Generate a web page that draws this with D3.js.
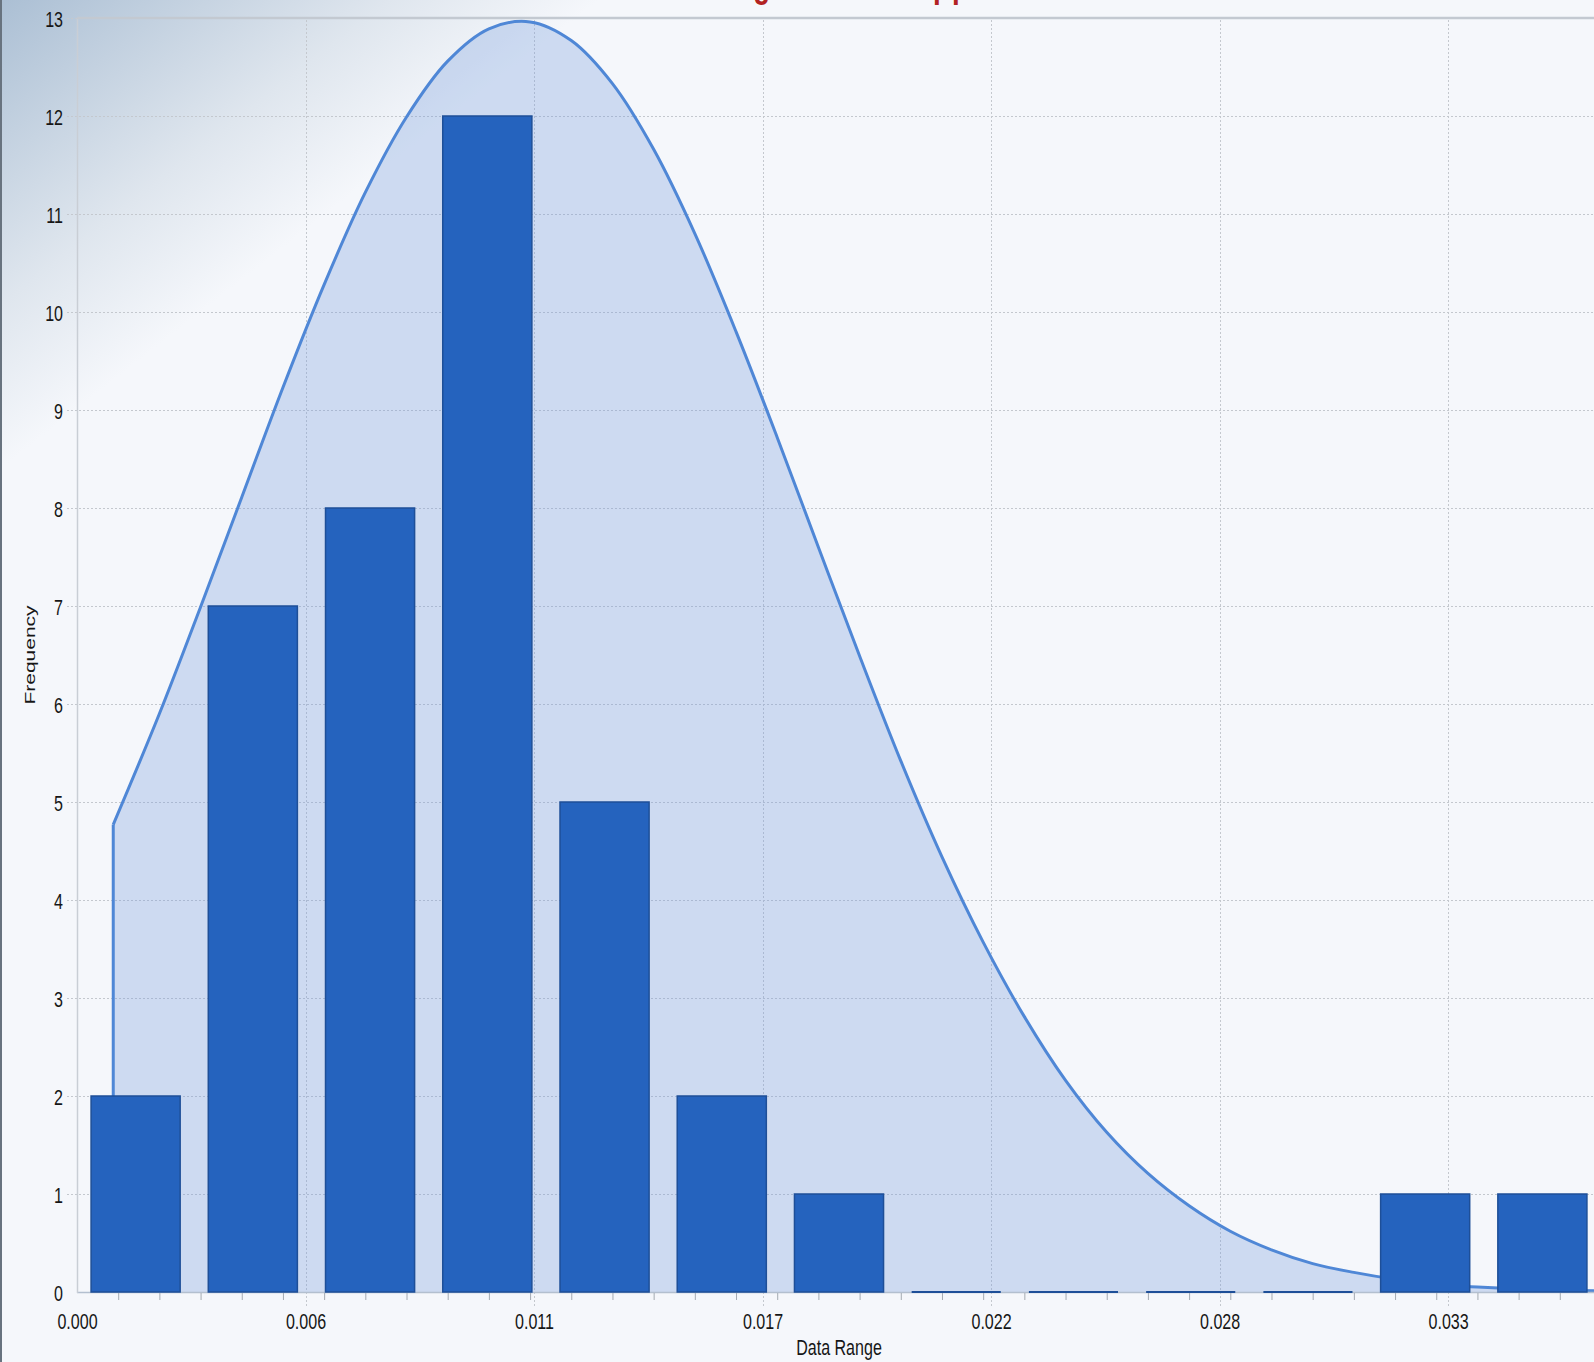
<!DOCTYPE html>
<html>
<head>
<meta charset="utf-8">
<script src="https://cdn.jsdelivr.net/npm/d3@7"></script>
<style>
  html, body { margin: 0; padding: 0; background: #f5f7fb; overflow: hidden; }
  svg { display: block; }
  text { font-family: "Liberation Sans", Arial, sans-serif; }
</style>
</head>
<body>
<svg id="chart" width="1594" height="1362"></svg>
<script>
// ---- data ---------------------------------------------------------------
// histogram bin edges (13 equal bins) and the count in each bin
const binEdges = [0.000000, 0.002846, 0.005692, 0.008538, 0.011385, 0.014231, 0.017077,
                  0.019923, 0.022769, 0.025615, 0.028462, 0.031308, 0.034154, 0.037000];
const frequencies = [2, 7, 8, 12, 5, 2, 1, 0, 0, 0, 0, 1, 1];

// fitted approximation curve, sampled along the data range
const curveX = [0.00088, 0.002, 0.003, 0.004, 0.005, 0.006, 0.007, 0.008, 0.009, 0.010,
                0.011, 0.012, 0.013, 0.014, 0.015, 0.016, 0.017, 0.018, 0.019, 0.020,
                0.021, 0.022, 0.023, 0.024, 0.025, 0.026, 0.027, 0.028, 0.029, 0.030,
                0.031, 0.032, 0.033, 0.034, 0.035, 0.036, 0.037];
const curveY = [4.77, 5.90, 6.99, 8.11, 9.23, 10.28, 11.22, 11.99, 12.56, 12.89,
                12.96, 12.77, 12.33, 11.66, 10.80, 9.80, 8.72, 7.60, 6.49, 5.42,
                4.44, 3.57, 2.81, 2.16, 1.63, 1.21, 0.88, 0.62, 0.43, 0.29,
                0.20, 0.13, 0.08, 0.05, 0.03, 0.02, 0.01];

// axis ticks
const yTickValues = [0, 1, 2, 3, 4, 5, 6, 7, 8, 9, 10, 11, 12, 13];
const xTickValues = [0, 0.005548, 0.011096, 0.016644, 0.022192, 0.02774, 0.033288];
const xTickLabels = ["0.000", "0.006", "0.011", "0.017", "0.022", "0.028", "0.033"];
const xMinorTicks = [0.001, 0.002, 0.003, 0.004, 0.005, 0.006, 0.007, 0.008, 0.009, 0.010,
                     0.011, 0.012, 0.013, 0.014, 0.015, 0.016, 0.017, 0.018, 0.019, 0.020,
                     0.021, 0.022, 0.023, 0.024, 0.025, 0.026, 0.027, 0.028, 0.029, 0.030,
                     0.031, 0.032, 0.033, 0.034, 0.035, 0.036];

const titleText = "Histogram with Approximation";
const xAxisTitle = "Data Range";
const yAxisTitle = "Frequency";

// ---- layout -------------------------------------------------------------
const W = 1594, H = 1362;
const plot = { left: 77, top: 18, right: 1601, bottom: 1292 };
const SX = 0.73;              // horizontal squeeze of the lettering
const FONT = 22;

const svg = d3.select("#chart");
const x = d3.scaleLinear().domain([0, 0.037]).range([plot.left, plot.right]);
const y = d3.scaleLinear().domain([0, 13]).range([plot.bottom, plot.top]);

// ---- background ---------------------------------------------------------
const defs = svg.append("defs");
const bg = defs.append("linearGradient").attr("id", "cornerShade")
  .attr("gradientUnits", "userSpaceOnUse")
  .attr("x1", 0).attr("y1", 0).attr("x2", 228).attr("y2", 291);
bg.append("stop").attr("offset", 0).attr("stop-color", "#abbfd4");
bg.append("stop").attr("offset", 0.3).attr("stop-color", "#c3d1e0");
bg.append("stop").attr("offset", 0.65).attr("stop-color", "#dfe6ee");
bg.append("stop").attr("offset", 1).attr("stop-color", "#f5f7fb");

svg.append("rect").attr("width", W).attr("height", H).attr("fill", "#f5f7fb");
svg.append("rect").attr("width", W).attr("height", H).attr("fill", "url(#cornerShade)");

// ---- grid ---------------------------------------------------------------
const grid = svg.append("g").attr("stroke", "#c4c8ce").attr("stroke-width", 1)
  .attr("stroke-dasharray", "2,2");
grid.selectAll("line.h").data(yTickValues.filter(d => d > 0)).join("line")
  .attr("class", "h")
  .attr("x1", plot.left - 10).attr("x2", plot.right)
  .attr("y1", d => Math.round(y(d)) + 0.5).attr("y2", d => Math.round(y(d)) + 0.5);
grid.selectAll("line.v").data(xTickValues.filter(d => d > 0)).join("line")
  .attr("class", "v")
  .attr("y1", plot.top + 2).attr("y2", plot.bottom + 15)
  .attr("x1", d => Math.round(x(d)) + 0.5).attr("x2", d => Math.round(x(d)) + 0.5);

// ---- approximation curve -----------------------------------------------
const curvePts = curveX.map((cx, i) => [cx, curveY[i]]);
const smooth = d3.curveCatmullRom.alpha(0.5);
const area = d3.area().x(d => x(d[0])).y0(y(0)).y1(d => y(d[1])).curve(smooth);
const line = d3.line().x(d => x(d[0])).y(d => y(d[1])).curve(smooth);

svg.append("path").datum(curvePts).attr("d", area)
  .attr("fill", "#6f98dc").attr("fill-opacity", 0.3);
svg.append("line")
  .attr("x1", x(curveX[0])).attr("x2", x(curveX[0]))
  .attr("y1", y(0)).attr("y2", y(curveY[0]))
  .attr("stroke", "#4f87d6").attr("stroke-width", 3);
svg.append("path").datum(curvePts).attr("d", line)
  .attr("fill", "none").attr("stroke", "#4f87d6").attr("stroke-width", 3)
  .attr("stroke-linejoin", "round");

// ---- axis line and plot frame -------------------------------------------
svg.append("line").attr("x1", plot.left).attr("x2", W).attr("y1", plot.bottom + 0.5).attr("y2", plot.bottom + 0.5)
  .attr("stroke", "#b3bfcf").attr("stroke-width", 1.5);
svg.append("line").attr("x1", plot.left + 0.5).attr("x2", plot.left + 0.5).attr("y1", plot.top).attr("y2", plot.bottom + 1)
  .attr("stroke", "#c9ced5").attr("stroke-width", 1.5);
svg.append("line").attr("x1", plot.left).attr("x2", W).attr("y1", plot.top).attr("y2", plot.top)
  .attr("stroke", "#c3c9d1").attr("stroke-width", 2.5);

// ---- bars ---------------------------------------------------------------
const barFrac = 0.76;
const bars = frequencies.map((f, i) => {
  const lo = binEdges[i], hi = binEdges[i + 1];
  const mid = (lo + hi) / 2, half = (hi - lo) * barFrac / 2;
  return { x0: mid - half, x1: mid + half, v: f };
});
svg.append("g").selectAll("path").data(bars).join("path")
  .attr("d", d => {
    const p = d3.path();
    const a = x(d.x0), b = x(d.x1), t = y(d.v), z = y(0);
    p.moveTo(a, z); p.lineTo(a, t); p.lineTo(b, t); p.lineTo(b, z); p.closePath();
    return p.toString();
  })
  .attr("fill", "#2563be").attr("stroke", "#1e4f98")
  .attr("stroke-width", d => d.v === 0 ? 2.2 : 1.5);

// ---- axes ---------------------------------------------------------------
const minor = svg.append("g").attr("transform", `translate(0,${plot.bottom + 1})`)
  .call(d3.axisBottom(x).tickValues(xMinorTicks).tickSize(7).tickFormat(""));
minor.select(".domain").remove();
minor.selectAll(".tick line").attr("stroke", "#a4aab2");

const xAxis = svg.append("g").attr("transform", `translate(0,${plot.bottom})`)
  .call(d3.axisBottom(x).tickValues(xTickValues).tickSize(0)
    .tickFormat((d, i) => xTickLabels[i]));
xAxis.select(".domain").remove();
xAxis.selectAll(".tick text")
  .attr("y", 37).attr("dy", null)
  .attr("transform", `scale(${SX},1)`)
  .attr("font-size", FONT).attr("font-family", "Liberation Sans, Arial, sans-serif")
  .attr("fill", "#161616");

const yAxis = svg.append("g").attr("transform", `translate(${plot.left},0)`)
  .call(d3.axisLeft(y).tickValues(yTickValues).tickSize(0).tickFormat(d3.format("d")));
yAxis.select(".domain").remove();
yAxis.selectAll(".tick text")
  .attr("x", -14 / SX).attr("dy", "0.37em")
  .attr("transform", `scale(${SX},1)`)
  .attr("font-size", FONT).attr("font-family", "Liberation Sans, Arial, sans-serif")
  .attr("fill", "#161616");

// ---- titles -------------------------------------------------------------
svg.append("g").attr("transform", `translate(${(plot.left + plot.right) / 2},1355) scale(${SX},1)`)
  .append("text").attr("text-anchor", "middle").attr("font-size", FONT)
  .attr("fill", "#161616").text(xAxisTitle);

svg.append("g").attr("transform", `translate(35,${(plot.top + plot.bottom) / 2}) rotate(-90) scale(1,${SX})`)
  .append("text").attr("text-anchor", "middle").attr("font-size", 21)
  .attr("fill", "#161616").text(yAxisTitle);

svg.append("g").attr("transform", `translate(674,-3) scale(${SX},1)`)
  .append("text").attr("font-size", 38).attr("font-weight", "bold")
  .attr("letter-spacing", 2.74).attr("fill", "#b22222").text(titleText);

// left window edge
svg.append("rect").attr("x", 0).attr("y", 0).attr("width", 2).attr("height", H).attr("fill", "#68737f");
</script>
</body>
</html>
